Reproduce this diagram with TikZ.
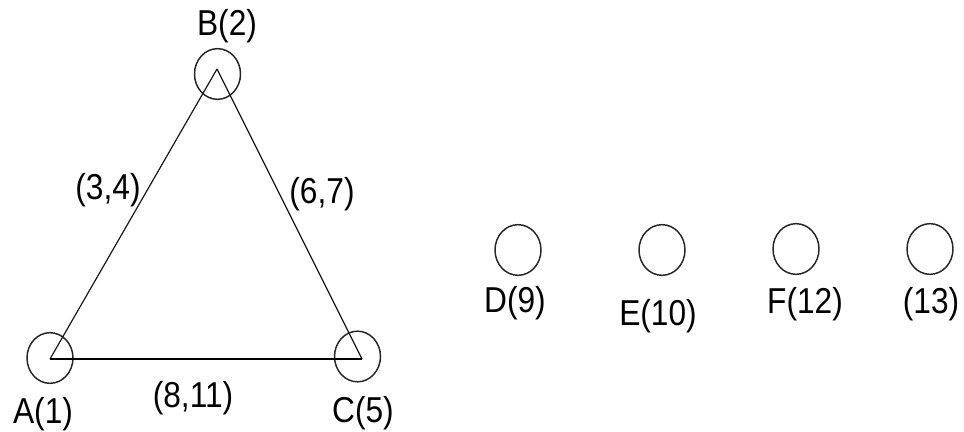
\documentclass[tikz,border=0pt]{standalone}
\usepackage{fontspec}
\setmainfont{Liberation Sans}
\usetikzlibrary{shapes.geometric}
\tikzset{
  vert/.style={draw=black!85, line width=1.1pt, ellipse, inner sep=0pt,
    minimum width=34.5pt, minimum height=38pt},
  lbl/.style={anchor=base, inner sep=0pt, font=\fontsize{27}{30}\selectfont},
  side/.style={draw=black!90, line width=0.9pt},
  base/.style={draw=black, line width=1.9pt}
}
\newcommand{\sq}[1]{\scalebox{0.88}[1]{#1}}
\begin{document}
\begin{tikzpicture}[x=0.75pt, y=-0.75pt]
\useasboundingbox (0,0) rectangle (964,432);
% circles
\node[vert] (a) at (50,358) {};
\node[vert] (b) at (217.5,74) {};
\node[vert] (c) at (357.5,356.5) {};
\node[vert] (d) at (518,250) {};
\node[vert] (e) at (662,250) {};
\node[vert] (f) at (796,249) {};
\node[vert] (g) at (930,249) {};
% triangle vertices
\coordinate (va) at (50,359);
\coordinate (vb) at (217,69);
\coordinate (vc) at (362,359);
\draw[side] (va) -- (vb);
\draw[side] (vb) -- (vc);
\draw[base] (va) -- (vc);
% labels
\node[lbl] (la) at (43,423) {\sq{A(1)}};
\node[lbl] (lb) at (227,35) {\sq{B(2)}};
\node[lbl] (lc) at (363,422) {\sq{C(5)}};
\node[lbl] (ld) at (515,312) {\sq{D(9)}};
\node[lbl] (le) at (658,325) {\sq{E(10)}};
\node[lbl] (lf) at (805,313) {\sq{F(12)}};
\node[lbl] (lg) at (931,313) {\sq{(13)}};
\node[lbl] (lab) at (108,199) {\sq{(3,4)}};
\node[lbl] (lbc) at (322,203) {\sq{(6,7)}};
\node[lbl] (lac) at (193,407) {\sq{(8,11)}};
\end{tikzpicture}
\end{document}
